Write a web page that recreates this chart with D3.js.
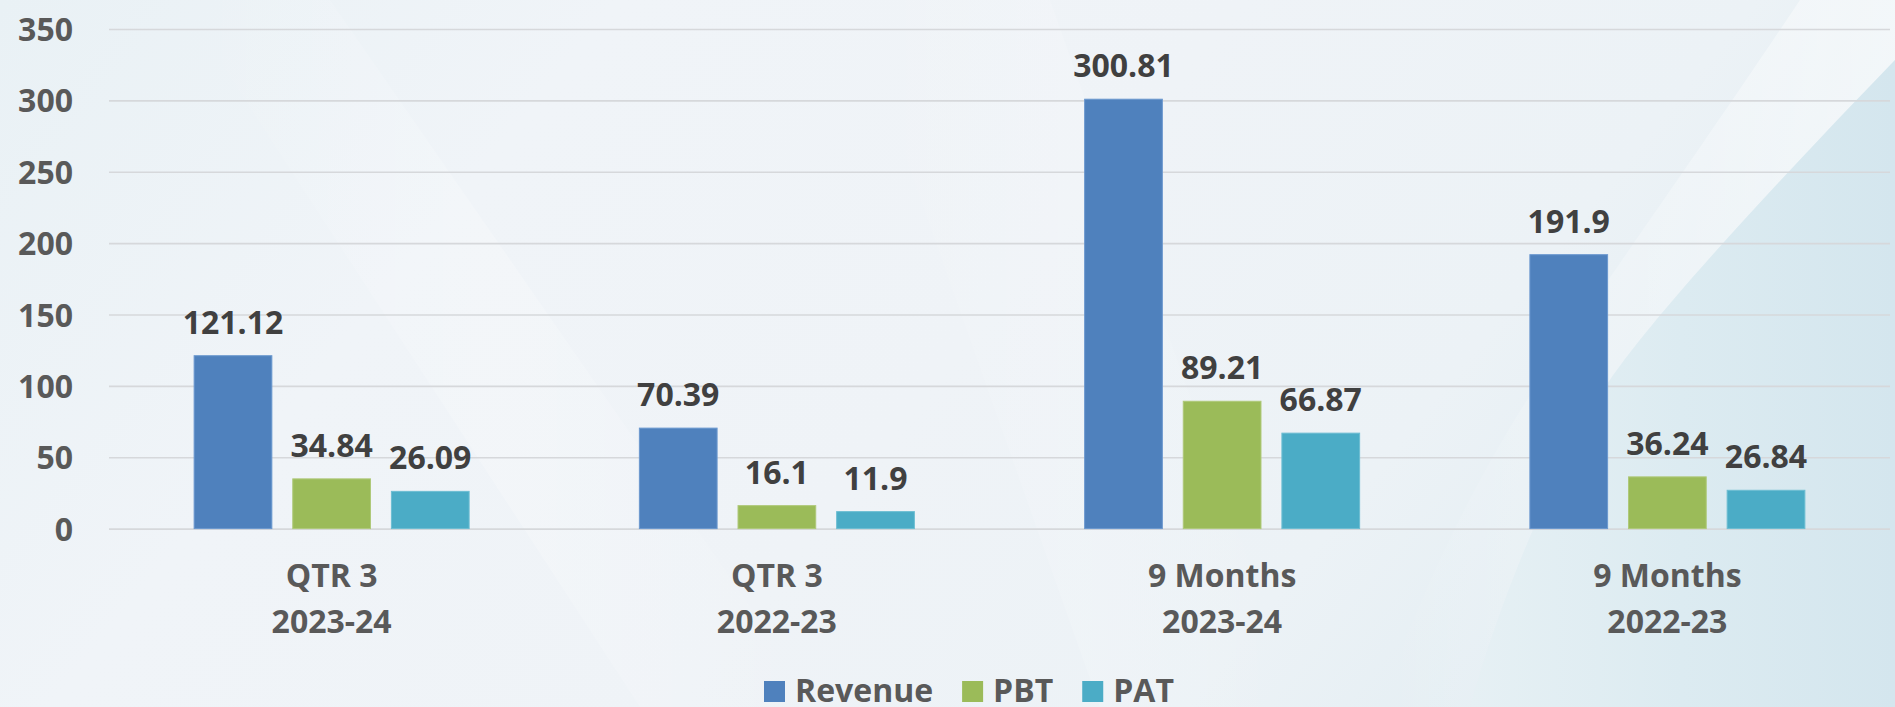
<!DOCTYPE html>
<html>
<head>
<meta charset="utf-8">
<script src="https://cdn.jsdelivr.net/npm/d3@7"></script>
<style>
  html, body { margin: 0; padding: 0; width: 1895px; height: 707px; overflow: hidden; background: #eef3f7; }
  svg { display: block; }
  text { font-family: "Open Sans", "Noto Sans", sans-serif; font-weight: 700; }
</style>
</head>
<body>
<svg id="chart" width="1895" height="707"></svg>
<script>
// ---- data ----
const categoryLine1 = ["QTR 3", "QTR 3", "9 Months", "9 Months"];
const categoryLine2 = ["2023-24", "2022-23", "2023-24", "2022-23"];
const seriesNames = ["Revenue", "PBT", "PAT"];
const revenue = [121.12, 70.39, 300.81, 191.9];
const pbt = [34.84, 16.1, 89.21, 36.24];
const pat = [26.09, 11.9, 66.87, 26.84];
const yTicks = [0, 50, 100, 150, 200, 250, 300, 350];
const seriesColors = ["#4F81BD", "#9BBB59", "#4BACC6"];
const seriesStroke = ["#6b98cf", "#afc97a", "#6cbdd2"];

// ---- setup ----
const W = 1895, H = 707;
const svg = d3.select("#chart");
const defs = svg.append("defs");

// background
const bg = defs.append("linearGradient").attr("id", "bgGrad")
  .attr("x1", "0").attr("y1", "0").attr("x2", "1").attr("y2", "0.3");
[["0", "#e9f1f5"], ["0.3", "#f0f4f8"], ["0.6", "#eff3f7"], ["0.85", "#ecf2f6"], ["1", "#e4eef3"]]
  .forEach(([o, c]) => bg.append("stop").attr("offset", o).attr("stop-color", c));
svg.append("rect").attr("width", W).attr("height", H).attr("fill", "url(#bgGrad)");

// faint diagonal light streaks
const streak = defs.append("linearGradient").attr("id", "streak")
  .attr("x1", "0").attr("y1", "0").attr("x2", "1").attr("y2", "0");
[["0", "#ffffff", 0], ["0.5", "#ffffff", 0.45], ["1", "#ffffff", 0]]
  .forEach(([o, c, a]) => streak.append("stop").attr("offset", o).attr("stop-color", c).attr("stop-opacity", a));
svg.append("path").attr("d", "M180,0 L330,0 L820,707 L640,707 Z").attr("fill", "url(#streak)").attr("opacity", 0.45);
svg.append("path").attr("d", "M850,0 L1050,0 L1300,707 L1100,707 Z").attr("fill", "url(#streak)").attr("opacity", 0.3);

// right blue region
const blue = defs.append("linearGradient").attr("id", "blueGrad")
  .attr("x1", "0").attr("y1", "0").attr("x2", "1").attr("y2", "0");
[["0", "#e6f0f4"], ["0.5", "#dcebf1"], ["1", "#d4e6ee"]]
  .forEach(([o, c]) => blue.append("stop").attr("offset", o).attr("stop-color", c));
const whiteBand = defs.append("linearGradient").attr("id", "whiteBand")
  .attr("x1", "0").attr("y1", "0").attr("x2", "1").attr("y2", "0");
[["0", "#ffffff", 0], ["0.8", "#ffffff", 0.7], ["1", "#ffffff", 0.85]]
  .forEach(([o, c, a]) => whiteBand.append("stop").attr("offset", o).attr("stop-color", c).attr("stop-opacity", a));
svg.append("path")
  .attr("d", "M1800,0 L1895,0 L1895,60 C1760,200 1640,330 1600,395 C1550,480 1500,600 1470,707 L1380,707 C1420,590 1480,470 1540,380 C1600,290 1700,150 1800,0 Z")
  .attr("fill", "url(#whiteBand)").attr("opacity", 0.55);
svg.append("path")
  .attr("d", "M1895,60 C1760,200 1640,330 1600,395 C1550,480 1500,600 1470,707 L1895,707 Z")
  .attr("fill", "url(#blueGrad)");

// ---- scales ----
const plotLeft = 109, plotRight = 1890;
const y = d3.scaleLinear().domain([0, 350]).range([528.6, 29]);
const x0 = d3.scaleBand().domain(d3.range(categoryLine1.length)).range([plotLeft, plotRight]).padding(0);
const groupW = x0.bandwidth();
const innerW = 275;
const x1 = d3.scaleBand().domain(seriesNames)
  .range([(groupW - innerW) / 2, (groupW + innerW) / 2])
  .paddingInner(0.212).paddingOuter(0);

// ---- gridlines & y axis ----
const yAxis = d3.axisLeft(y).tickValues(yTicks).tickSize(-(plotRight - plotLeft)).tickPadding(36);
const gy = svg.append("g").attr("transform", `translate(${plotLeft},0)`).call(yAxis);
gy.select(".domain").remove();
gy.selectAll(".tick line").attr("stroke", "#d6d8db").attr("stroke-width", 1.6);
gy.selectAll(".tick text")
  .attr("fill", "#595959").attr("font-size", 32).attr("font-weight", 700)
  .attr("font-family", "'Open Sans', sans-serif").attr("dy", "0.36em");

// ---- bars ----
const values = [revenue, pbt, pat];
const groups = svg.append("g").selectAll("g.grp")
  .data(d3.range(categoryLine1.length)).join("g")
  .attr("class", "grp")
  .attr("transform", i => `translate(${x0(i)},0)`);

groups.selectAll("rect")
  .data(i => seriesNames.map((s, k) => ({ s, k, v: values[k][i] })))
  .join("rect")
  .attr("x", d => x1(d.s))
  .attr("y", d => y(d.v))
  .attr("width", x1.bandwidth())
  .attr("height", d => y(0) - y(d.v))
  .attr("fill", d => seriesColors[d.k])
  .attr("stroke", d => seriesStroke[d.k])
  .attr("stroke-width", 1);

groups.selectAll("text.val")
  .data(i => seriesNames.map((s, k) => ({ s, k, v: values[k][i] })))
  .join("text")
  .attr("class", "val")
  .attr("x", d => x1(d.s) + x1.bandwidth() / 2)
  .attr("y", d => y(d.v) - 22)
  .attr("text-anchor", "middle")
  .attr("font-size", 32)
  .attr("fill", "#404040")
  .text(d => String(d.v));

// ---- category labels ----
const cat = svg.append("g").selectAll("text.cat")
  .data(d3.range(categoryLine1.length)).join("text")
  .attr("class", "cat")
  .attr("text-anchor", "middle")
  .attr("font-size", 32)
  .attr("fill", "#595959");
cat.append("tspan").attr("x", i => x0(i) + groupW / 2).attr("y", 587).text(i => categoryLine1[i]);
cat.append("tspan").attr("x", i => x0(i) + groupW / 2).attr("y", 633).text(i => categoryLine2[i]);

// ---- legend ----
const legend = svg.append("g").attr("class", "legend");
let lx = 764;
seriesNames.forEach((name, k) => {
  legend.append("rect").attr("x", lx).attr("y", 681).attr("width", 21).attr("height", 21)
    .attr("fill", seriesColors[k]);
  const t = legend.append("text").attr("x", lx + 31).attr("y", 702)
    .attr("font-size", 32).attr("fill", "#595959").text(name);
  const w = t.node().getComputedTextLength();
  lx = lx + 31 + w + 29;
});
</script>
</body>
</html>
